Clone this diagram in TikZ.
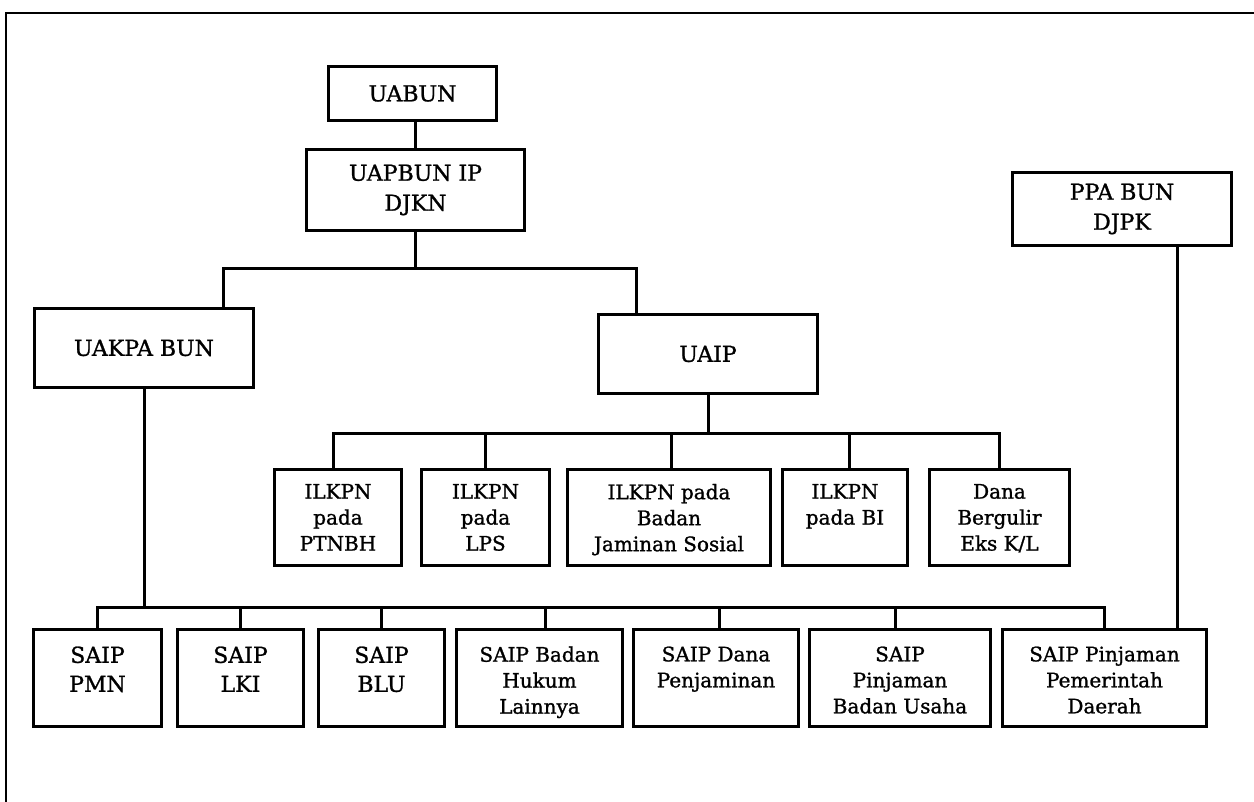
\documentclass[tikz,border=0pt]{standalone}
\usepackage{fontspec}
\setmainfont{DejaVu Serif}[FakeBold=1.2]
\newcommand{\tbox}[4]{\parbox[c][#2][t]{#1}{\centering\vspace*{#3}#4\par}}
\begin{document}
\begin{tikzpicture}[x=1pt,y=-1pt,
  box/.style={draw, line width=3pt, inner sep=0pt, align=center},
  tbx/.style={draw, line width=3pt, inner sep=0pt},
  conn/.style={line width=3pt},
  big/.style={font=\fontsize{22}{30}\selectfont},
  small/.style={font=\fontsize{20}{26}\selectfont}]
\useasboundingbox (0,0) rectangle (1254,802);
\draw[line width=2pt] (6,802) -- (6,13) -- (1254,13);

% top level
\node[box,big,minimum width=168pt,minimum height=54pt] (uabun) at (412.5,93.5) {UABUN};
\node[box,big,minimum width=218pt,minimum height=81pt] (uapbun) at (415.5,190) {UAPBUN IP\\DJKN};
\node[box,big,minimum width=219pt,minimum height=79pt] (uakpa) at (144,348) {UAKPA BUN};
\node[box,big,minimum width=219pt,minimum height=79pt] (uaip) at (708,354) {UAIP};
\node[box,big,minimum width=219pt,minimum height=73pt] (ppa) at (1122,209) {PPA BUN\\DJPK};

% ILKPN row
\node[tbx,small] (ptnbh) at (338,517.5) {\tbox{127pt}{96pt}{14.5pt}{ILKPN\\pada\\PTNBH}};
\node[tbx,small] (lps) at (485.5,517.5) {\tbox{128pt}{96pt}{14.5pt}{ILKPN\\pada\\LPS}};
\node[tbx,small] (bjs) at (669,517.5) {\tbox{203pt}{96pt}{14.5pt}{ILKPN pada\\Badan\\Jaminan Sosial}};
\node[tbx,small] (bi) at (845,517.5) {\tbox{125pt}{96pt}{14.5pt}{ILKPN\\pada BI}};
\node[tbx,small] (dana) at (999.5,517.5) {\tbox{140pt}{96pt}{14.5pt}{Dana\\Bergulir\\Eks K/L}};

% SAIP row
\node[tbx,font=\fontsize{22}{29}\selectfont] (pmn) at (97.5,678) {\tbox{128pt}{97pt}{17pt}{SAIP\\PMN}};
\node[tbx,font=\fontsize{22}{29}\selectfont] (lki) at (240.5,678) {\tbox{126pt}{97pt}{17pt}{SAIP\\LKI}};
\node[tbx,font=\fontsize{22}{29}\selectfont] (blu) at (381.5,678) {\tbox{126pt}{97pt}{17pt}{SAIP\\BLU}};
\node[tbx,small] (bhl) at (539.5,678) {\tbox{166pt}{97pt}{17pt}{SAIP Badan\\Hukum\\Lainnya}};
\node[tbx,small] (dp) at (716,678) {\tbox{165pt}{97pt}{17pt}{SAIP Dana\\Penjaminan}};
\node[tbx,small] (pbu) at (900,678) {\tbox{181pt}{97pt}{17pt}{SAIP\\Pinjaman\\Badan Usaha}};
\node[tbx,small] (pemda) at (1104.5,678) {\tbox{204pt}{97pt}{17pt}{SAIP Pinjaman\\Pemerintah\\Daerah}};

% connectors top
\coordinate (j0) at (415.5,269);
\coordinate (ua) at ([xshift=79pt]uakpa.north);
\coordinate (ui) at ([xshift=-72pt]uaip.north);
\draw[conn] (uapbun.north) -- (uapbun.north |- uabun.south);
\draw[conn] (uapbun.south) -- (j0);
\draw[conn] (ua) |- (j0) -| (ui);

% ILKPN connectors
\coordinate (ib) at (0,434);
\coordinate (c1) at ([xshift=-5pt]ptnbh.north);
\coordinate (c3) at ([xshift=2pt]bjs.north);
\coordinate (c4) at ([xshift=4pt]bi.north);
\draw[conn] (uaip.south) -- (uaip.south |- ib);
\draw[conn] (c1) -- (c1 |- ib) -- (dana.north |- ib) -- (dana.north);
\draw[conn] (lps.north) -- (lps.north |- ib);
\draw[conn] (c3) -- (c3 |- ib);
\draw[conn] (c4) -- (c4 |- ib);

% SAIP connectors
\coordinate (sb) at (0,607);
\coordinate (s4) at ([xshift=5.5pt]bhl.north);
\coordinate (s5) at ([xshift=3pt]dp.north);
\coordinate (s6) at ([xshift=-5pt]pbu.north);
\draw[conn] (uakpa.south) -- (uakpa.south |- sb);
\draw[conn] (pmn.north) -- (pmn.north |- sb) -- (pemda.north |- sb) -- (pemda.north);
\draw[conn] (lki.north) -- (lki.north |- sb);
\draw[conn] (blu.north) -- (blu.north |- sb);
\draw[conn] (s4) -- (s4 |- sb);
\draw[conn] (s5) -- (s5 |- sb);
\draw[conn] (s6) -- (s6 |- sb);

% PPA connector
\coordinate (pp) at ([xshift=55pt]ppa.south);
\draw[conn] (pp) -- (pp |- pemda.north);
\end{tikzpicture}
\end{document}
